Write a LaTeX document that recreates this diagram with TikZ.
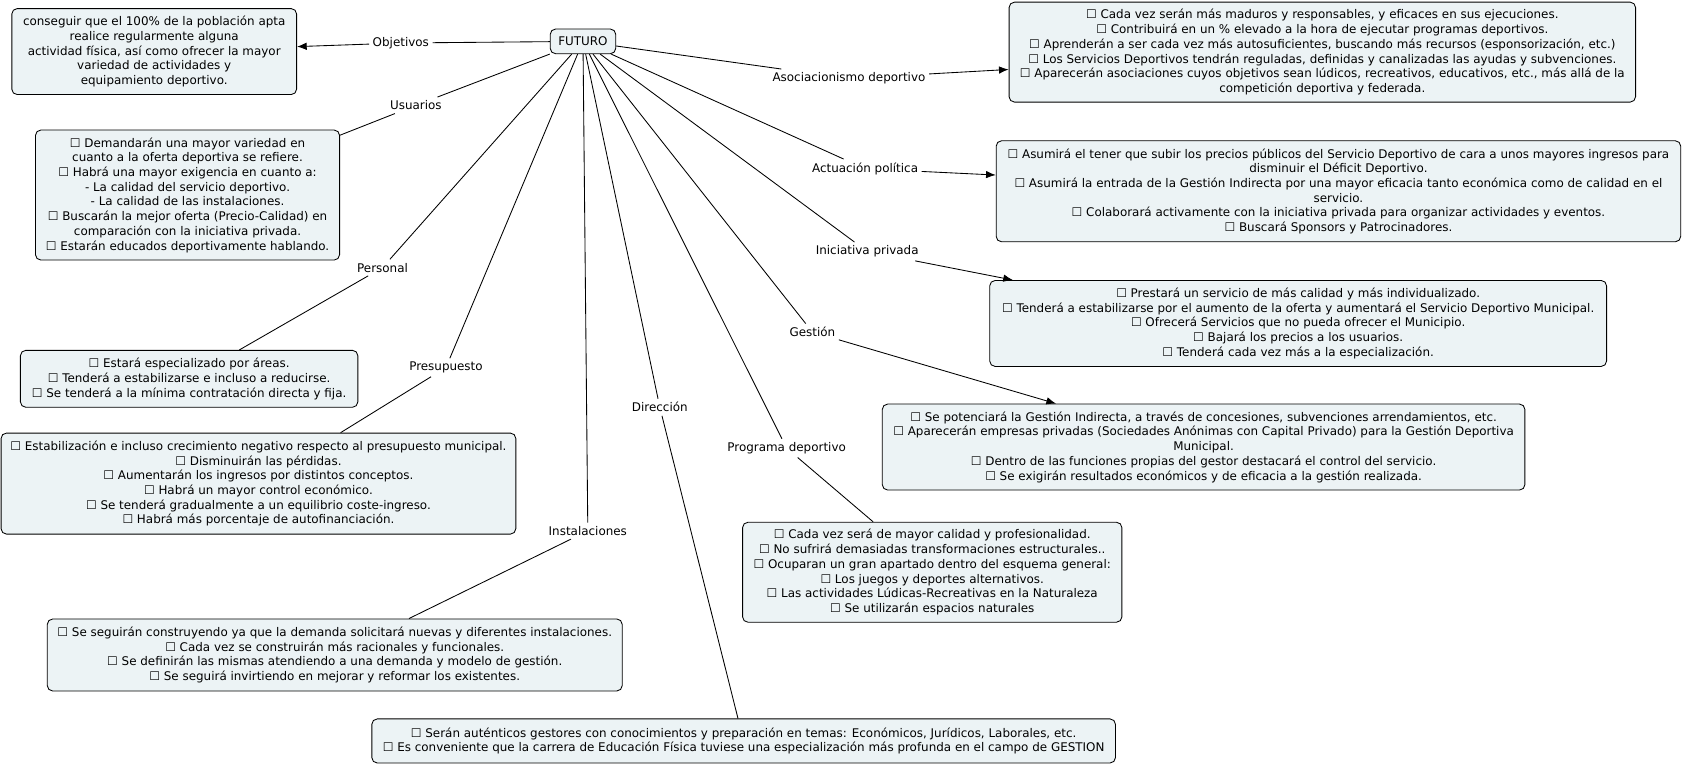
\documentclass[tikz,border=0pt]{standalone}
\usepackage{fontspec}
\setmainfont{DejaVu Sans}
\usetikzlibrary{positioning, arrows.meta}
\definecolor{cajafondo}{RGB}{236,243,245}

\begin{document}
\begin{tikzpicture}[
        x=1pt, y=-1pt,
        >={Latex[length=9pt,width=7pt]},
        line width=0.8pt,
        concepto/.style={draw, rounded corners=5pt, fill=cajafondo, align=center, inner sep=0pt,
            font=\fontsize{11.1}{13.7}\selectfont},
        enlace/.style={inner sep=3pt, font=\fontsize{11.1}{13.7}\selectfont},
    ]
        \useasboundingbox (0,0) rectangle (1568,712);

        % Central concept
        \node[concepto, minimum width=61pt, minimum height=23pt] (futuro) at (542.5,38.5) {FUTURO};

        % Concepts on the left side
        \node[concepto, minimum width=265pt, minimum height=80pt] (obj) at (143.5,48)
            {conseguir que el 100\% de la población apta\\ realice regularmente alguna\\ actividad física, así como ofrecer la mayor\\ variedad de actividades y\\ equipamiento deportivo.};
        \node[concepto, minimum width=283pt, minimum height=121pt] (usu) at (174.5,181.5)
            {☐ Demandarán una mayor variedad en\\ cuanto a la oferta deportiva se refiere.\\ ☐ Habrá una mayor exigencia en cuanto a:\\ - La calidad del servicio deportivo.\\ - La calidad de las instalaciones.\\ ☐ Buscarán la mejor oferta (Precio-Calidad) en\\ comparación con la iniciativa privada.\\ ☐ Estarán educados deportivamente hablando.};
        \node[concepto, minimum width=314pt, minimum height=53pt] (per) at (176,352.5)
            {☐ Estará especializado por áreas.\\ ☐ Tenderá a estabilizarse e incluso a reducirse.\\ ☐ Se tenderá a la mínima contratación directa y fija.};
        \node[concepto, minimum width=479pt, minimum height=94pt] (pre) at (240.5,450)
            {☐ Estabilización e incluso crecimiento negativo respecto al presupuesto municipal.\\ ☐ Disminuirán las pérdidas.\\ ☐ Aumentarán los ingresos por distintos conceptos.\\ ☐ Habrá un mayor control económico.\\ ☐ Se tenderá gradualmente a un equilibrio coste-ingreso.\\ ☐ Habrá más porcentaje de autofinanciación.};
        \node[concepto, minimum width=535pt, minimum height=67pt] (ins) at (311.5,609.5)
            {☐ Se seguirán construyendo ya que la demanda solicitará nuevas y diferentes instalaciones.\\ ☐ Cada vez se construirán más racionales y funcionales.\\ ☐ Se definirán las mismas atendiendo a una demanda y modelo de gestión.\\ ☐ Se seguirá invirtiendo en mejorar y reformar los existentes.};
        \node[concepto, minimum width=692pt, minimum height=41pt] (dir) at (692,689.5)
            {☐ Serán auténticos gestores con conocimientos y preparación en temas: Económicos, Jurídicos, Laborales, etc.\\ ☐ Es conveniente que la carrera de Educación Física tuviese una especialización más profunda en el campo de GESTION};

        % Concepts on the right side
        \node[concepto, minimum width=353pt, minimum height=93pt] (prog) at (867.5,532.5)
            {☐ Cada vez será de mayor calidad y profesionalidad.\\ ☐ No sufrirá demasiadas transformaciones estructurales..\\ ☐ Ocuparan un gran apartado dentro del esquema general:\\ ☐ Los juegos y deportes alternativos.\\ ☐ Las actividades Lúdicas-Recreativas en la Naturaleza\\ ☐ Se utilizarán espacios naturales};
        \node[concepto, minimum width=598pt, minimum height=80pt] (ges) at (1120,416)
            {☐ Se potenciará la Gestión Indirecta, a través de concesiones, subvenciones arrendamientos, etc.\\ ☐ Aparecerán empresas privadas (Sociedades Anónimas con Capital Privado) para la Gestión Deportiva\\ Municipal.\\ ☐ Dentro de las funciones propias del gestor destacará el control del servicio.\\ ☐ Se exigirán resultados económicos y de eficacia a la gestión realizada.};
        \node[concepto, minimum width=574pt, minimum height=80pt] (ini) at (1208,301)
            {☐ Prestará un servicio de más calidad y más individualizado.\\ ☐ Tenderá a estabilizarse por el aumento de la oferta y aumentará el Servicio Deportivo Municipal.\\ ☐ Ofrecerá Servicios que no pueda ofrecer el Municipio.\\ ☐ Bajará los precios a los usuarios.\\ ☐ Tenderá cada vez más a la especialización.};
        \node[concepto, minimum width=637pt, minimum height=94pt] (act) at (1245.5,178)
            {☐ Asumirá el tener que subir los precios públicos del Servicio Deportivo de cara a unos mayores ingresos para\\ disminuir el Déficit Deportivo.\\ ☐ Asumirá la entrada de la Gestión Indirecta por una mayor eficacia tanto económica como de calidad en el\\ servicio.\\ ☐ Colaborará activamente con la iniciativa privada para organizar actividades y eventos.\\ ☐ Buscará Sponsors y Patrocinadores.};
        \node[concepto, minimum width=583pt, minimum height=93pt] (aso) at (1230.5,48.5)
            {☐ Cada vez serán más maduros y responsables, y eficaces en sus ejecuciones.\\ ☐ Contribuirá en un \% elevado a la hora de ejecutar programas deportivos.\\ ☐ Aprenderán a ser cada vez más autosuficientes, buscando más recursos (esponsorización, etc.)\\ ☐ Los Servicios Deportivos tendrán reguladas, definidas y canalizadas las ayudas y subvenciones.\\ ☐ Aparecerán asociaciones cuyos objetivos sean lúdicos, recreativos, educativos, etc., más allá de la\\ competición deportiva y federada.};

        % Linking phrases
        \node[enlace] (lobj) at (373,40) {Objetivos};
        \node[enlace] (lusu) at (387,98) {Usuarios};
        \node[enlace] (lper) at (356,249) {Personal};
        \node[enlace] (lpre) at (415,342) {Presupuesto};
        \node[enlace] (lins) at (547,494) {Instalaciones};
        \node[enlace] (ldir) at (614,379) {Dirección};
        \node[enlace] (lprog) at (732,417) {Programa deportivo};
        \node[enlace] (lges) at (756,309) {Gestión};
        \node[enlace] (lini) at (807,234) {Iniciativa privada};
        \node[enlace] (lact) at (805,157) {Actuación política};
        \node[enlace] (laso) at (790,73) {Asociacionismo deportivo};

        % Connect the central concept with each linking phrase and its concept
        \foreach \frase / \destino in {lobj/obj, lges/ges, lact/act, laso/aso}
            \path (futuro) edge (\frase) (\frase) edge[->] (\destino);
        \path (futuro) edge (lini) (lini) edge[->] ([xshift=22pt]ini.north west);
        \foreach \frase / \destino in {lusu/usu, lper/per, lpre/pre, lins/ins, ldir/dir, lprog/prog}
            \path (futuro) edge (\frase) (\frase) edge (\destino);
    \end{tikzpicture}
\end{document}
